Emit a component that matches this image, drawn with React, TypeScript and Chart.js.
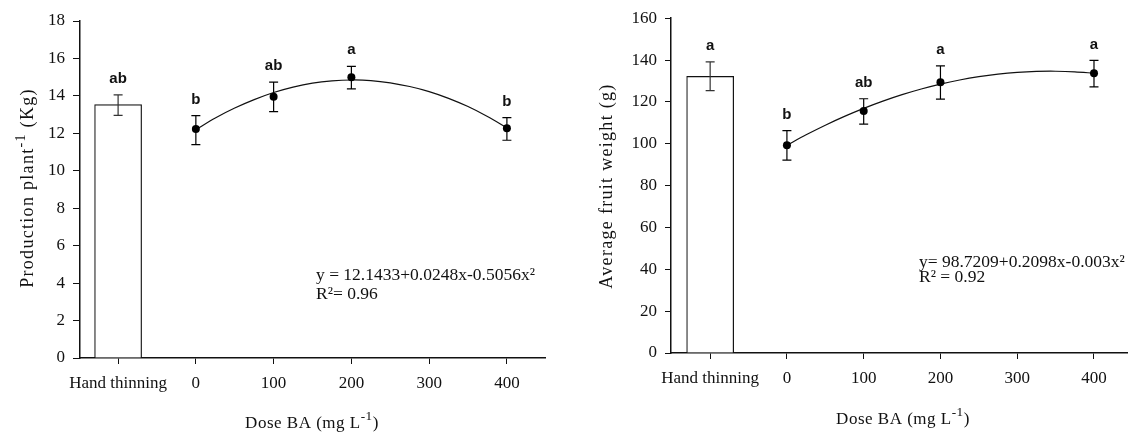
import React, { useEffect, useRef } from 'react';
import { Chart, registerables } from 'chart.js';

Chart.register(...registerables);

// ---------- data ----------
const xTickValues = [-100, 0, 100, 200, 300, 400];
const handThinningX = -100;
const handThinningLabel = 'Hand thinning';
const doses = [0, 100, 200, 400];
const curveX = [0, 25, 50, 75, 100, 125, 150, 175, 200, 225, 250, 275, 300, 325, 350, 375, 400];

// Production plant-1 (Kg)
const prodHand = 13.53;
const prodHandLow = 12.96;
const prodHandHigh = 14.05;
const prodHandLetter = 'ab';
const prodMeans = [12.23, 13.96, 15.0, 12.27];
const prodLow = [11.4, 13.16, 14.37, 11.63];
const prodHigh = [12.95, 14.73, 15.58, 12.84];
const prodLetters = ['b', 'ab', 'a', 'b'];
const prodCurve = [12.2, 12.82, 13.35, 13.8, 14.18, 14.47, 14.68, 14.8, 14.85, 14.82, 14.7, 14.5, 14.23, 13.87, 13.43, 12.9, 12.3];
const prodEquation = ['y = 12.1433+0.0248x-0.5056x²', 'R²= 0.96'];

// Average fruit weight (g)
const weightHand = 132.2;
const weightHandLow = 125.4;
const weightHandHigh = 139.1;
const weightHandLetter = 'a';
const weightMeans = [99.3, 115.6, 129.4, 133.7];
const weightLow = [92.2, 109.4, 121.3, 127.2];
const weightHigh = [106.3, 121.5, 137.2, 139.8];
const weightLetters = ['b', 'ab', 'a', 'a'];
const weightCurve = [99.3, 104.26, 108.85, 113.06, 116.9, 120.36, 123.45, 126.16, 128.5, 130.46, 132.05, 133.26, 134.1, 134.56, 134.65, 134.36, 133.7];
const weightEquation = ['y= 98.7209+0.2098x-0.003x²', 'R² = 0.92'];

// ---------- styling / layout ----------
const SERIF = '"Liberation Serif", "Times New Roman", serif';
const SANS = '"Liberation Sans", Arial, sans-serif';

type Part = { text: string; sup?: boolean };

type Panel = {
  left: number;
  width: number;
  area: { left: number; top: number; right: number; bottom: number };
  xMin: number;
  xMax: number;
  yMax: number;
  yStep: number;
  yTickLen: number;
  hand: number;
  handLow: number;
  handHigh: number;
  handLetter: string;
  means: number[];
  low: number[];
  high: number[];
  letters: string[];
  curve: number[];
  yTitle: Part[];
  yTitlePos: [number, number];
  xTitlePos: [number, number];
  eq: string[];
  eqPos: [number, number];
  eqGap: number;
};

const xTitleParts: Part[] = [{ text: 'Dose BA (mg L' }, { text: '-1', sup: true }, { text: ')' }];

const panels: Panel[] = [
  {
    left: 0,
    width: 565,
    area: { left: 80, top: 21, right: 545, bottom: 358 },
    xMin: -149,
    xMax: 449,
    yMax: 18,
    yStep: 2,
    yTickLen: 7,
    hand: prodHand,
    handLow: prodHandLow,
    handHigh: prodHandHigh,
    handLetter: prodHandLetter,
    means: prodMeans,
    low: prodLow,
    high: prodHigh,
    letters: prodLetters,
    curve: prodCurve,
    yTitle: [{ text: 'Production plant' }, { text: '-1', sup: true }, { text: ' (Kg)' }],
    yTitlePos: [33, 188],
    xTitlePos: [312, 428],
    eq: prodEquation,
    eqPos: [316, 280],
    eqGap: 18.5,
  },
  {
    left: 565,
    width: 566,
    area: { left: 106, top: 16, right: 566, bottom: 353 },
    xMin: -151,
    xMax: 443,
    yMax: 160,
    yStep: 20,
    yTickLen: 6,
    hand: weightHand,
    handLow: weightHandLow,
    handHigh: weightHandHigh,
    handLetter: weightHandLetter,
    means: weightMeans,
    low: weightLow,
    high: weightHigh,
    letters: weightLetters,
    curve: weightCurve,
    yTitle: [{ text: 'Average fruit weight (g)' }],
    yTitlePos: [47, 186],
    xTitlePos: [338, 424],
    eq: weightEquation,
    eqPos: [354, 267],
    eqGap: 14.5,
  },
];

function drawRich(
  ctx: CanvasRenderingContext2D,
  parts: Part[],
  cx: number,
  baseline: number,
  rotate: boolean,
  size: number,
  spacing: number
) {
  ctx.save();
  ctx.translate(cx, baseline);
  if (rotate) ctx.rotate(-Math.PI / 2);
  (ctx as any).letterSpacing = `${spacing}px`;
  const supSize = size * 0.78;
  const widths = parts.map((p) => {
    ctx.font = `${p.sup ? supSize : size}px ${SERIF}`;
    return ctx.measureText(p.text).width;
  });
  const total = widths.reduce((a, b) => a + b, 0);
  let x = -total / 2;
  ctx.fillStyle = '#111';
  ctx.textAlign = 'left';
  ctx.textBaseline = 'alphabetic';
  parts.forEach((p, i) => {
    ctx.font = `${p.sup ? supSize : size}px ${SERIF}`;
    ctx.fillText(p.text, x, p.sup ? -size * 0.45 : 0);
    x += widths[i];
  });
  ctx.restore();
}

function makeAnnotPlugin(p: Panel) {
  return {
    id: 'annot',
    afterDatasetsDraw(chart: any) {
      const ctx: CanvasRenderingContext2D = chart.ctx;
      const xs = chart.scales.x;
      const ys = chart.scales.y;
      const cap = 4.5;
      const errBar = (xv: number, lo: number, hi: number, color: string) => {
        const px = xs.getPixelForValue(xv);
        const pl = ys.getPixelForValue(lo);
        const ph = ys.getPixelForValue(hi);
        ctx.save();
        ctx.strokeStyle = color;
        ctx.lineWidth = 1.2;
        ctx.beginPath();
        ctx.moveTo(px, pl);
        ctx.lineTo(px, ph);
        ctx.moveTo(px - cap, pl);
        ctx.lineTo(px + cap, pl);
        ctx.moveTo(px - cap, ph);
        ctx.lineTo(px + cap, ph);
        ctx.stroke();
        ctx.restore();
        return ph;
      };
      const letter = (xv: number, topPx: number, txt: string) => {
        ctx.save();
        ctx.font = `bold 15px ${SANS}`;
        ctx.fillStyle = '#111';
        ctx.textAlign = 'center';
        ctx.textBaseline = 'middle';
        ctx.fillText(txt, xs.getPixelForValue(xv), topPx - 16);
        ctx.restore();
      };
      const topHand = errBar(handThinningX, p.handLow, p.handHigh, '#333');
      letter(handThinningX, topHand, p.handLetter);
      doses.forEach((d, i) => {
        const top = errBar(d, p.low[i], p.high[i], '#000');
        letter(d, top, p.letters[i]);
      });

      // equation
      ctx.save();
      ctx.font = `17.5px ${SERIF}`;
      ctx.fillStyle = '#111';
      ctx.textAlign = 'left';
      ctx.textBaseline = 'alphabetic';
      p.eq.forEach((line, i) => ctx.fillText(line, p.eqPos[0], p.eqPos[1] + i * p.eqGap));
      ctx.restore();

      // axis titles
      drawRich(ctx, p.yTitle, p.yTitlePos[0], p.yTitlePos[1], true, 18, 1.3);
      drawRich(ctx, xTitleParts, p.xTitlePos[0], p.xTitlePos[1], false, 17, 0.5);
    },
  };
}

function PanelChart({ p }: { p: Panel }) {
  const ref = useRef<HTMLCanvasElement | null>(null);
  useEffect(() => {
    if (!ref.current) return;
    const tickFont = { family: SERIF, size: 17 };
    const chart = new Chart(ref.current, {
      type: 'scatter',
      data: {
        datasets: [
          {
            type: 'line',
            data: curveX.map((x, i) => ({ x, y: p.curve[i] })),
            borderColor: '#111',
            borderWidth: 1.2,
            pointRadius: 0,
            tension: 0.3,
            fill: false,
            order: 2,
          } as any,
          {
            type: 'line',
            data: doses.map((x, i) => ({ x, y: p.means[i] })),
            showLine: false,
            pointRadius: 4,
            pointBackgroundColor: '#000',
            pointBorderColor: '#000',
            pointBorderWidth: 0,
            order: 1,
          } as any,
          {
            type: 'bar',
            data: [{ x: handThinningX, y: p.hand }],
            backgroundColor: '#fff',
            borderColor: '#111',
            borderWidth: 1.2,
            barThickness: 47,
            order: 3,
          } as any,
        ],
      },
      options: {
        animation: false,
        responsive: false,
        maintainAspectRatio: false,
        events: [],
        layout: {
          padding: { left: 0, top: p.area.top, right: p.width - p.area.right, bottom: 0 },
        },
        plugins: { legend: { display: false }, tooltip: { enabled: false } },
        scales: {
          x: {
            type: 'linear',
            min: p.xMin,
            max: p.xMax,
            offset: false,
            afterBuildTicks: (s: any) => {
              s.ticks = xTickValues.map((v) => ({ value: v }));
            },
            afterFit: (s: any) => {
              s.height = 435 - p.area.bottom;
            },
            ticks: {
              autoSkip: false,
              maxRotation: 0,
              font: tickFont,
              color: '#111',
              padding: 9,
              callback: (v: any) => (v === handThinningX ? handThinningLabel : String(v)),
            },
            grid: { display: true, drawOnChartArea: false, drawTicks: true, tickLength: 6, color: '#111', offset: false },
            border: { display: true, color: '#111', width: 1.5 },
          },
          y: {
            type: 'linear',
            min: 0,
            max: p.yMax,
            afterFit: (s: any) => {
              s.width = p.area.left;
            },
            ticks: { stepSize: p.yStep, font: tickFont, color: '#111', padding: 8 },
            grid: { display: true, drawOnChartArea: false, drawTicks: true, tickLength: p.yTickLen, color: '#111' },
            border: { display: true, color: '#111', width: 1.5 },
          },
        },
      } as any,
      plugins: [makeAnnotPlugin(p)],
    });
    return () => chart.destroy();
  }, [p]);
  return (
    <canvas
      ref={ref}
      width={p.width}
      height={435}
      style={{ position: 'absolute', left: p.left, top: 0, width: p.width, height: 435 }}
    />
  );
}

export default function App() {
  return (
    <div style={{ position: 'absolute', left: 0, top: 0, width: 1131, height: 435, background: '#fff' }}>
      {panels.map((p, i) => (
        <PanelChart key={i} p={p} />
      ))}
    </div>
  );
}
